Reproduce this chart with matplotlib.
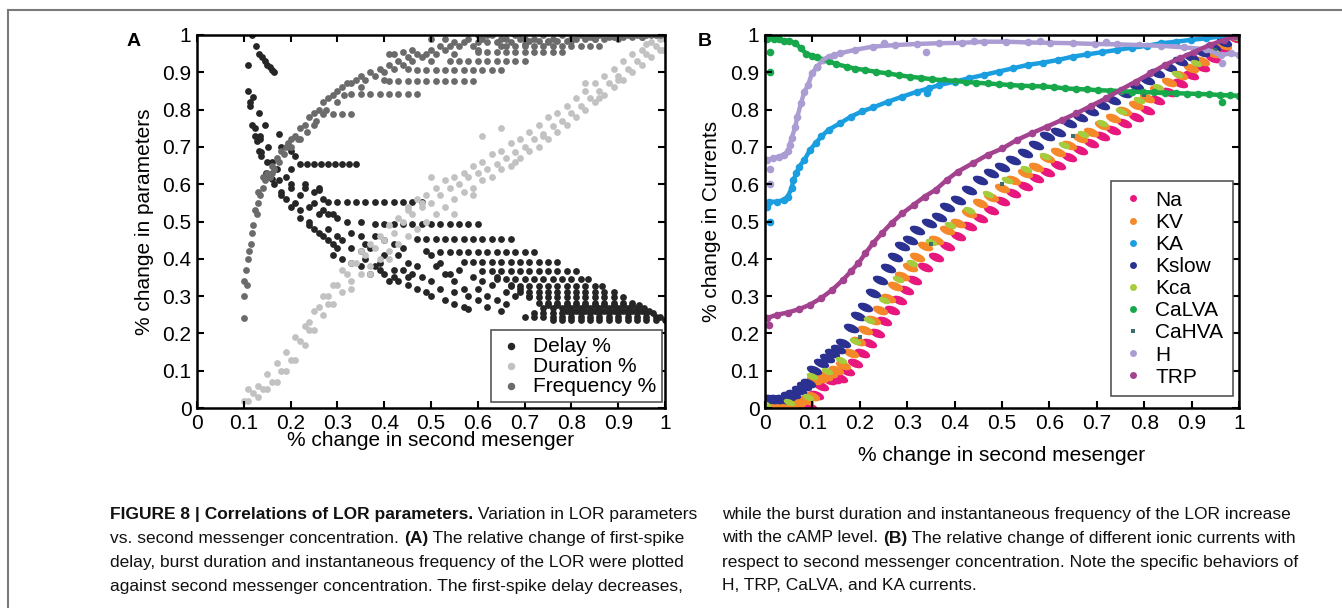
import numpy as np
import matplotlib
matplotlib.use("Agg")
import matplotlib.pyplot as plt
from matplotlib.lines import Line2D
from matplotlib.path import Path
from matplotlib.transforms import Affine2D

plt.rcParams['font.family'] = ['Liberation Sans', 'DejaVu Sans']

# ---------------- panel A data ----------------
# first-spike delay: scattered descending part
delay_x = [0.118, 0.125, 0.132, 0.138, 0.145, 0.15, 0.155, 0.16, 0.165,
           0.109, 0.109, 0.113, 0.119, 0.113, 0.117, 0.123, 0.132, 0.146, 0.124, 0.134,
           0.128, 0.134, 0.132, 0.137, 0.136, 0.152, 0.175, 0.15, 0.147, 0.155, 0.16,
           0.165, 0.175, 0.18, 0.18, 0.19, 0.19, 0.2, 0.2, 0.21, 0.2, 0.22, 0.22, 0.24,
           0.23, 0.25, 0.26, 0.25, 0.27, 0.24, 0.26, 0.27, 0.28, 0.29, 0.3, 0.25, 0.28,
           0.29, 0.3, 0.27, 0.3, 0.31, 0.29, 0.31, 0.33, 0.35, 0.37, 0.33, 0.35, 0.33,
           0.35, 0.36, 0.37, 0.38, 0.39, 0.4, 0.4, 0.42, 0.38, 0.4, 0.42, 0.44, 0.41,
           0.43, 0.45, 0.47, 0.43, 0.45, 0.47, 0.44, 0.46, 0.48, 0.5, 0.49, 0.5, 0.52,
           0.55, 0.53, 0.55, 0.57, 0.58, 0.6, 0.58, 0.57, 0.55, 0.53, 0.52, 0.5, 0.49,
           0.6, 0.62, 0.62, 0.65, 0.64, 0.66, 0.18, 0.2, 0.21, 0.2, 0.23, 0.26, 0.28,
           0.32, 0.35, 0.16, 0.17, 0.22, 0.24, 0.26, 0.36, 0.39, 0.42, 0.45,
           0.61, 0.63, 0.66, 0.68, 0.64, 0.67, 0.69, 0.71, 0.56, 0.59, 0.51, 0.54]
delay_y = [1.0, 0.97, 0.95, 0.94, 0.93, 0.92, 0.915, 0.905, 0.90,
           0.92, 0.85, 0.82, 0.835, 0.81, 0.76, 0.75, 0.79, 0.76, 0.73, 0.73,
           0.715, 0.72, 0.69, 0.685, 0.675, 0.70, 0.735, 0.66, 0.63, 0.62, 0.615,
           0.60, 0.61, 0.58, 0.57, 0.56, 0.62, 0.64, 0.59, 0.55, 0.54, 0.53, 0.51, 0.50,
           0.60, 0.58, 0.59, 0.55, 0.56, 0.49, 0.47, 0.46, 0.45, 0.44, 0.43, 0.48, 0.48,
           0.52, 0.51, 0.53, 0.46, 0.45, 0.41, 0.40, 0.39, 0.38, 0.36, 0.43, 0.42, 0.47,
           0.46, 0.44, 0.43, 0.38, 0.37, 0.36, 0.41, 0.37, 0.46, 0.45, 0.44, 0.43, 0.34,
           0.34, 0.33, 0.32, 0.41, 0.39, 0.38, 0.37, 0.36, 0.35, 0.34, 0.31, 0.30, 0.32,
           0.31, 0.29, 0.28, 0.27, 0.265, 0.29, 0.30, 0.32, 0.34, 0.36, 0.39, 0.41, 0.42,
           0.32, 0.30, 0.27, 0.26, 0.29, 0.28, 0.70, 0.69, 0.675, 0.60, 0.59, 0.585, 0.52,
           0.50, 0.50, 0.66, 0.64, 0.57, 0.54, 0.52, 0.40, 0.39, 0.35, 0.35,
           0.34, 0.33, 0.31, 0.30, 0.35, 0.33, 0.32, 0.30, 0.37, 0.35, 0.38, 0.36]

# first-spike delay: flat rows (one y level per row)
delay_row_y = [0.655, 0.552, 0.492, 0.452, 0.418, 0.392, 0.367, 0.347, 0.328,
               0.312, 0.297, 0.282, 0.268, 0.254, 0.243, 0.236, 0.275, 0.26]
delay_row_x = [
    [0.22, 0.235, 0.25, 0.265, 0.28, 0.295, 0.31, 0.325, 0.34],
    [0.28, 0.30, 0.32, 0.34, 0.36, 0.38, 0.40, 0.42, 0.44, 0.46, 0.48],
    [0.38, 0.40, 0.42, 0.44, 0.46, 0.48, 0.50, 0.52, 0.54, 0.56, 0.58, 0.60],
    [0.47, 0.49, 0.51, 0.53, 0.55, 0.57, 0.59, 0.61, 0.63, 0.65, 0.67],
    [0.52, 0.54, 0.56, 0.58, 0.60, 0.62, 0.64, 0.66, 0.68, 0.70, 0.72],
    [0.57, 0.59, 0.61, 0.63, 0.65, 0.67, 0.69, 0.71, 0.73, 0.75, 0.77],
    [0.61, 0.63, 0.65, 0.67, 0.69, 0.71, 0.73, 0.75, 0.77, 0.79, 0.81],
    [0.64, 0.66, 0.68, 0.70, 0.72, 0.74, 0.76, 0.78, 0.80, 0.82, 0.835],
    [0.67, 0.69, 0.71, 0.73, 0.75, 0.77, 0.79, 0.81, 0.83, 0.85, 0.865],
    [0.69, 0.71, 0.73, 0.75, 0.77, 0.79, 0.81, 0.83, 0.85, 0.87, 0.89],
    [0.71, 0.73, 0.75, 0.77, 0.79, 0.81, 0.83, 0.85, 0.87, 0.89, 0.91],
    [0.73, 0.75, 0.77, 0.79, 0.81, 0.83, 0.85, 0.87, 0.89, 0.91, 0.93],
    [0.74, 0.76, 0.78, 0.80, 0.82, 0.84, 0.86, 0.88, 0.90, 0.92, 0.94, 0.955],
    [0.72, 0.74, 0.76, 0.78, 0.80, 0.82, 0.84, 0.86, 0.88, 0.90, 0.92, 0.94, 0.96, 0.975],
    [0.70, 0.72, 0.74, 0.76, 0.78, 0.80, 0.82, 0.84, 0.86, 0.88, 0.90, 0.92, 0.94, 0.96, 0.98, 0.99],
    [0.76, 0.78, 0.80, 0.82, 0.84, 0.86, 0.88, 0.90, 0.92, 0.94, 0.96, 0.98, 1.0],
    [0.75, 0.77, 0.79, 0.81, 0.83, 0.85, 0.87, 0.89, 0.91, 0.93, 0.945],
    [0.79, 0.81, 0.83, 0.85, 0.87, 0.89, 0.91, 0.93, 0.95, 0.965],
]

# burst duration: three tracks across the band
dur_mid_x = [0.10, 0.12, 0.14, 0.16, 0.18, 0.20, 0.22, 0.24, 0.26, 0.28, 0.30, 0.32,
             0.34, 0.36, 0.38, 0.40, 0.42, 0.44, 0.46, 0.48, 0.50, 0.52, 0.54, 0.56,
             0.58, 0.60, 0.62, 0.64, 0.66, 0.68, 0.70, 0.72, 0.74, 0.76, 0.78, 0.80,
             0.82, 0.84, 0.86, 0.88, 0.90, 0.92, 0.94, 0.96, 0.98, 1.00]
dur_mid_y = [0.02, 0.04, 0.05, 0.07, 0.10, 0.13, 0.18, 0.23, 0.27, 0.30, 0.33, 0.36,
             0.39, 0.41, 0.43, 0.45, 0.47, 0.50, 0.52, 0.54, 0.55, 0.57, 0.59, 0.60,
             0.62, 0.63, 0.64, 0.655, 0.67, 0.685, 0.70, 0.72, 0.735, 0.755, 0.77, 0.79,
             0.81, 0.83, 0.85, 0.87, 0.89, 0.91, 0.93, 0.95, 0.97, 0.99]
dur_side_x = [0.11, 0.13, 0.15, 0.17, 0.19, 0.21, 0.23, 0.25, 0.27, 0.29, 0.31, 0.33,
              0.35, 0.37, 0.39, 0.41, 0.43, 0.45, 0.47, 0.49, 0.51, 0.53, 0.55, 0.57,
              0.59, 0.61, 0.63, 0.65, 0.67, 0.69, 0.71, 0.73, 0.75, 0.77, 0.79, 0.81,
              0.83, 0.85, 0.87, 0.89, 0.91, 0.93, 0.95, 0.97, 0.99]
dur_lo_y = [0.02, 0.03, 0.05, 0.07, 0.10, 0.13, 0.17, 0.21, 0.25, 0.28, 0.31, 0.34,
            0.36, 0.38, 0.40, 0.42, 0.44, 0.46, 0.48, 0.50, 0.52, 0.54, 0.56, 0.58,
            0.59, 0.61, 0.62, 0.64, 0.65, 0.67, 0.69, 0.70, 0.72, 0.74, 0.76, 0.78,
            0.80, 0.82, 0.84, 0.86, 0.88, 0.90, 0.92, 0.94, 0.96]
dur_hi_y = [0.05, 0.06, 0.09, 0.12, 0.15, 0.19, 0.22, 0.26, 0.30, 0.33, 0.37, 0.39,
            0.42, 0.44, 0.46, 0.49, 0.51, 0.54, 0.56, 0.57, 0.59, 0.61, 0.62, 0.63,
            0.65, 0.66, 0.68, 0.69, 0.71, 0.72, 0.74, 0.76, 0.78, 0.79, 0.81, 0.83,
            0.85, 0.87, 0.89, 0.91, 0.93, 0.95, 0.96, 0.98, 0.99]
dur_extra_x = [0.50, 0.61, 0.65, 0.48, 0.995, 0.96, 0.83, 0.45, 0.33, 0.37, 0.41, 0.55,
               0.59, 0.68, 0.74, 0.86, 0.9, 0.28, 0.24]
dur_extra_y = [0.62, 0.73, 0.75, 0.55, 0.96, 0.975, 0.87, 0.53, 0.32, 0.36, 0.40, 0.52,
               0.57, 0.66, 0.73, 0.83, 0.88, 0.28, 0.21]

# instantaneous frequency
freq_x = [0.10, 0.10, 0.101, 0.104, 0.107, 0.11, 0.112, 0.115, 0.118, 0.12, 0.123,
          0.128, 0.13, 0.135, 0.14, 0.145, 0.15, 0.155, 0.16, 0.165, 0.17, 0.175,
          0.18, 0.185, 0.19, 0.195, 0.20, 0.21, 0.215, 0.22, 0.23, 0.235, 0.24, 0.25,
          0.255, 0.26, 0.27, 0.275, 0.28, 0.29, 0.30, 0.31, 0.315, 0.32, 0.33, 0.34,
          0.35, 0.36, 0.37, 0.38, 0.39, 0.40, 0.41, 0.42, 0.43, 0.44, 0.45, 0.46,
          0.47, 0.48, 0.49, 0.50, 0.51, 0.52, 0.53, 0.54, 0.55, 0.56, 0.57, 0.58,
          0.59, 0.60, 0.61, 0.62, 0.63, 0.64, 0.65, 0.66, 0.67, 0.68, 0.69, 0.70,
          0.72, 0.74, 0.76, 0.78, 0.80, 0.82, 0.84, 0.86, 0.88, 0.90, 0.92, 0.94,
          0.96, 0.98, 1.0,
          0.13, 0.14, 0.16, 0.20, 0.22, 0.25, 0.30, 0.35, 0.40, 0.45, 0.50, 0.55,
          0.60, 0.65, 0.70, 0.75, 0.80, 0.85, 0.90, 0.95,
          0.41, 0.42, 0.44, 0.46, 0.50, 0.53, 0.60, 0.62, 0.71, 0.73, 0.75, 0.77,
          0.79, 0.81, 0.83, 0.85, 0.87, 0.89, 0.91, 0.93, 0.95, 0.97, 0.99]
freq_y = [0.24, 0.30, 0.34, 0.37, 0.33, 0.40, 0.42, 0.44, 0.47, 0.49, 0.53,
          0.52, 0.55, 0.57, 0.59, 0.61, 0.63, 0.62, 0.65, 0.64, 0.67, 0.66,
          0.69, 0.68, 0.70, 0.71, 0.72, 0.73, 0.72, 0.75, 0.76, 0.74, 0.78, 0.79,
          0.77, 0.80, 0.82, 0.80, 0.83, 0.84, 0.85, 0.86, 0.84, 0.87, 0.87, 0.88,
          0.89, 0.88, 0.90, 0.89, 0.91, 0.90, 0.92, 0.91, 0.93, 0.92, 0.94, 0.93,
          0.95, 0.94, 0.95, 0.96, 0.95, 0.97, 0.96, 0.97, 0.98, 0.97, 0.98, 0.99,
          0.97, 0.98, 0.99, 0.98, 1.0, 0.98, 0.99, 0.99, 0.98, 1.0, 0.99, 0.99,
          0.99, 1.0, 0.99, 1.0, 0.99, 1.0, 0.995, 1.0, 0.995, 1.0, 1.0, 1.0,
          1.0, 1.0, 1.0,
          0.58, 0.62, 0.63, 0.70, 0.72, 0.76, 0.82, 0.86, 0.88, 0.91, 0.93, 0.95,
          0.96, 0.97, 0.975, 0.98, 0.985, 0.99, 0.99, 0.995,
          0.95, 0.95, 0.955, 0.96, 0.99, 0.99, 1.0, 1.0, 0.985, 0.985, 0.985, 0.985,
          0.985, 0.99, 0.99, 0.99, 0.99, 0.995, 0.995, 0.995, 0.995, 1.0, 1.0]
freq_row_y = [0.787, 0.842, 0.878, 0.905, 0.93, 0.955, 0.97]
freq_row_x = [
    [0.27, 0.29, 0.31, 0.33],
    [0.33, 0.35, 0.37, 0.39, 0.41, 0.43, 0.45, 0.47],
    [0.41, 0.43, 0.45, 0.47, 0.49, 0.51, 0.53, 0.55, 0.57, 0.59],
    [0.47, 0.49, 0.51, 0.53, 0.55, 0.57, 0.59, 0.61, 0.63, 0.65],
    [0.54, 0.56, 0.58, 0.60, 0.62, 0.64, 0.66, 0.68, 0.70],
    [0.60, 0.62, 0.64, 0.66, 0.68, 0.70, 0.72, 0.74, 0.76, 0.78],
    [0.66, 0.68, 0.70, 0.72, 0.74, 0.76, 0.78, 0.80, 0.82, 0.84, 0.86],
]

# ---------------- panel B data ----------------
calva_x = [0.0, 0.005, 0.01, 0.02, 0.03, 0.04, 0.05, 0.064, 0.075, 0.087, 0.10, 0.11,
           0.134, 0.15, 0.173, 0.19, 0.212, 0.235, 0.26, 0.283, 0.306, 0.33, 0.353,
           0.377, 0.40, 0.423, 0.446, 0.47, 0.493, 0.517, 0.54, 0.563, 0.587, 0.61,
           0.633, 0.657, 0.68, 0.703, 0.727, 0.75, 0.774, 0.797, 0.82, 0.843, 0.867,
           0.89, 0.914, 0.937, 0.96, 0.98, 1.0]
calva_y = [0.995, 0.99, 0.995, 0.99, 0.99, 0.985, 0.985, 0.978, 0.965, 0.95, 0.945, 0.94,
           0.93, 0.922, 0.915, 0.91, 0.906, 0.901, 0.897, 0.892, 0.888, 0.885, 0.881,
           0.879, 0.877, 0.874, 0.872, 0.87, 0.868, 0.866, 0.864, 0.863, 0.862, 0.86,
           0.857, 0.855, 0.854, 0.852, 0.851, 0.85, 0.848, 0.847, 0.846, 0.845, 0.844,
           0.843, 0.842, 0.841, 0.839, 0.838, 0.837]
calva_out_x = [0.01, 0.01, 0.11, 0.965]
calva_out_y = [0.955, 0.90, 0.915, 0.82]

h_x = [0.005, 0.017, 0.03, 0.04, 0.048, 0.052, 0.056, 0.064, 0.068, 0.076,
       0.083, 0.091, 0.099, 0.11, 0.122, 0.134, 0.158, 0.189, 0.228, 0.275, 0.321,
       0.368, 0.415, 0.462, 0.509, 0.555, 0.602, 0.649, 0.696, 0.743, 0.789, 0.836,
       0.883, 0.93, 0.961, 0.984, 1.0]
h_y = [0.665, 0.67, 0.674, 0.679, 0.688, 0.705, 0.723, 0.754, 0.78, 0.817,
       0.848, 0.866, 0.897, 0.915, 0.933, 0.942, 0.951, 0.96, 0.969, 0.973, 0.976,
       0.978, 0.979, 0.982, 0.982, 0.98, 0.979, 0.978, 0.976, 0.975, 0.973, 0.971,
       0.967, 0.962, 0.946, 0.951, 0.946]
h_out_x = [0.01, 0.01, 0.965, 0.34, 0.145, 0.25, 0.44, 0.58, 0.72, 0.86]
h_out_y = [0.60, 0.64, 0.924, 0.955, 0.947, 0.978, 0.985, 0.985, 0.98, 0.975]

ka_x = [0.004, 0.009, 0.025, 0.04, 0.048, 0.056, 0.06, 0.066, 0.072, 0.083, 0.095,
        0.107, 0.119, 0.134, 0.158, 0.181, 0.204, 0.228, 0.259, 0.29, 0.321, 0.345,
        0.368, 0.40, 0.43, 0.462, 0.493, 0.524, 0.555, 0.587, 0.618, 0.649,
        0.68, 0.711, 0.743, 0.774, 0.805, 0.836, 0.867, 0.899, 0.93, 0.961, 0.992]
ka_y = [0.54, 0.553, 0.553, 0.558, 0.567, 0.589, 0.611, 0.629, 0.647, 0.665, 0.692,
        0.71, 0.728, 0.746, 0.763, 0.781, 0.795, 0.806, 0.821, 0.835, 0.848, 0.857,
        0.866, 0.875, 0.884, 0.893, 0.902, 0.911, 0.92, 0.926, 0.933, 0.942,
        0.948, 0.954, 0.96, 0.966, 0.971, 0.978, 0.982, 0.987, 0.991, 0.996, 1.0]
ka_out_x = [0.01, 0.341]
ka_out_y = [0.50, 0.844]

trp_x = [0.004, 0.025, 0.048, 0.072, 0.095, 0.119, 0.142, 0.165, 0.181, 0.197,
         0.212, 0.228, 0.247, 0.267, 0.29, 0.314, 0.337, 0.36, 0.384, 0.407, 0.438,
         0.47, 0.501, 0.532, 0.563, 0.594, 0.626, 0.657, 0.688, 0.719, 0.75, 0.782,
         0.813, 0.844, 0.875, 0.906, 0.938, 0.969, 0.992]
trp_y = [0.241, 0.25, 0.256, 0.265, 0.277, 0.295, 0.317, 0.344, 0.366, 0.388,
         0.415, 0.442, 0.469, 0.496, 0.522, 0.545, 0.567, 0.585, 0.612, 0.634, 0.656,
         0.679, 0.696, 0.719, 0.737, 0.754, 0.772, 0.79, 0.81, 0.83, 0.853, 0.875,
         0.897, 0.92, 0.9375, 0.955, 0.973, 0.987, 0.996]
trp_out_x = [0.009]
trp_out_y = [0.223]

kslow_x = [0.0, 0.012, 0.024, 0.036, 0.048, 0.06, 0.072, 0.082, 0.091, 0.103, 0.119,
           0.13, 0.142, 0.155, 0.165, 0.181, 0.197,
           0.212, 0.228, 0.243, 0.259, 0.275, 0.29, 0.306, 0.321, 0.345, 0.368, 0.384,
           0.407, 0.43, 0.454, 0.477, 0.501, 0.524, 0.548, 0.571, 0.594, 0.618, 0.641,
           0.665, 0.688, 0.711, 0.735, 0.758, 0.782, 0.805, 0.828, 0.852, 0.875, 0.899,
           0.922, 0.945, 0.969, 0.992]
kslow_y = [0.024, 0.024, 0.024, 0.025, 0.031, 0.038, 0.049, 0.058, 0.067, 0.103, 0.12,
           0.135, 0.147, 0.158, 0.174, 0.214, 0.246,
           0.272, 0.308, 0.344, 0.375, 0.406, 0.433, 0.451, 0.478, 0.496, 0.513, 0.54,
           0.558, 0.585, 0.612, 0.629, 0.647, 0.665, 0.683, 0.705, 0.728, 0.741, 0.763,
           0.781, 0.797, 0.8125, 0.826, 0.844, 0.862, 0.879, 0.897, 0.915, 0.929, 0.942,
           0.955, 0.969, 0.982, 0.996]

kv_x = [0.0, 0.015, 0.03, 0.045, 0.056, 0.07, 0.087, 0.099, 0.103, 0.115, 0.126, 0.138,
        0.15, 0.165, 0.181, 0.197, 0.212,
        0.228, 0.243, 0.259, 0.275, 0.29, 0.306, 0.321, 0.337, 0.36, 0.384, 0.407,
        0.43, 0.454, 0.477, 0.501, 0.524, 0.548, 0.571, 0.594, 0.618, 0.641, 0.665,
        0.688, 0.711, 0.735, 0.758, 0.782, 0.805, 0.828, 0.852, 0.875, 0.899, 0.922,
        0.945, 0.969, 0.992, 1.0]
kv_y = [0.009, 0.009, 0.009, 0.011, 0.013, 0.017, 0.022, 0.031, 0.076, 0.08, 0.085, 0.094,
        0.103, 0.116, 0.147, 0.179, 0.21,
        0.237, 0.263, 0.295, 0.326, 0.353, 0.379, 0.406, 0.433, 0.451, 0.478, 0.496,
        0.522, 0.549, 0.567, 0.589, 0.612, 0.629, 0.647, 0.67, 0.6875, 0.705, 0.723,
        0.741, 0.759, 0.777, 0.795, 0.8125, 0.83, 0.853, 0.875, 0.893, 0.911, 0.929,
        0.951, 0.973, 0.996, 1.0]

kca_x = [0.0, 0.05, 0.09, 0.10, 0.13, 0.16, 0.19, 0.22, 0.25, 0.28, 0.31, 0.35, 0.39,
         0.43, 0.47, 0.51, 0.55, 0.59, 0.63, 0.67, 0.71, 0.75, 0.79, 0.83, 0.87, 0.91,
         0.95, 0.99]
kca_y = [0.01, 0.015, 0.03, 0.085, 0.1, 0.13, 0.18, 0.235, 0.29, 0.345, 0.39, 0.445,
         0.49, 0.53, 0.575, 0.61, 0.64, 0.675, 0.705, 0.735, 0.765, 0.795, 0.825, 0.86,
         0.895, 0.925, 0.955, 0.995]

na_x = [0.0, 0.015, 0.03, 0.045, 0.056, 0.07, 0.08, 0.095, 0.107, 0.119, 0.134, 0.146,
        0.158, 0.173, 0.189, 0.205,
        0.22, 0.236, 0.251, 0.267, 0.282, 0.298, 0.314, 0.337, 0.36, 0.384, 0.407, 0.43,
        0.454, 0.477, 0.501, 0.524, 0.548, 0.571, 0.594, 0.618, 0.641, 0.665, 0.688,
        0.711, 0.735, 0.758, 0.782, 0.805, 0.828, 0.852, 0.875, 0.899, 0.922, 0.945,
        0.969, 0.992]
na_y = [0.0, 0.0, 0.0, 0.0, 0.0, 0.0, 0.0, 0.003, 0.036, 0.058, 0.076, 0.078,
        0.08, 0.098, 0.12, 0.147,
        0.174, 0.2, 0.232, 0.263, 0.29, 0.317, 0.344, 0.379, 0.406, 0.433, 0.46, 0.487,
        0.509, 0.531, 0.554, 0.576, 0.594, 0.616, 0.634, 0.652, 0.674, 0.692, 0.71,
        0.728, 0.746, 0.763, 0.781, 0.799, 0.826, 0.848, 0.871, 0.893, 0.915, 0.9375,
        0.96, 0.991]

cahva_x = [0.2, 0.35, 0.5, 0.65, 0.8, 0.95]
cahva_y = [0.19, 0.44, 0.6, 0.73, 0.84, 0.96]

currents = ['Na', 'KV', 'KA', 'Kslow', 'Kca', 'CaLVA', 'CaHVA', 'H', 'TRP']
current_colors = ['#e8177d', '#f5892a', '#1a9ee0', '#2b3190', '#a4cc3c',
                  '#18a84c', '#3d6d6d', '#ab9dd3', '#a3428e']

# ---------------- caption ----------------
caption_left = [
    [("FIGURE 8 | Correlations of LOR parameters.", True), (" Variation in LOR parameters", False)],
    [("vs. second messenger concentration. ", False), ("(A)", True), (" The relative change of first-spike", False)],
    [("delay, burst duration and instantaneous frequency of the LOR were plotted", False)],
    [("against second messenger concentration. The first-spike delay decreases,", False)],
]
caption_right = [
    [("while the burst duration and instantaneous frequency of the LOR increase", False)],
    [("with the cAMP level. ", False), ("(B)", True), (" The relative change of different ionic currents with", False)],
    [("respect to second messenger concentration. Note the specific behaviors of", False)],
    [("H, TRP, CaLVA, and KA currents.", False)],
]

W, H = 1342, 608
fig = plt.figure(figsize=(W / 100, H / 100), dpi=100)
fig.patch.set_facecolor('white')

axA = fig.add_axes([197 / W, 1 - 408 / H, 468 / W, 373 / H])
axB = fig.add_axes([765 / W, 1 - 408 / H, 474 / W, 373 / H])

# panel A
sA = 24
c_delay, c_dur, c_freq = '#262626', '#c2c2c2', '#6b6b6b'
axA.scatter(delay_x, delay_y, s=sA, color=c_delay, lw=0, label='Delay %')
for yv, xs in zip(delay_row_y, delay_row_x):
    axA.scatter(xs, [yv] * len(xs), s=sA, color=c_delay, lw=0)
axA.scatter(dur_mid_x, dur_mid_y, s=sA, color=c_dur, lw=0, label='Duration %')
axA.scatter(dur_side_x, dur_lo_y, s=sA, color=c_dur, lw=0)
axA.scatter(dur_side_x, dur_hi_y, s=sA, color=c_dur, lw=0)
axA.scatter(dur_extra_x, dur_extra_y, s=sA, color=c_dur, lw=0)
axA.scatter(freq_x, freq_y, s=sA, color=c_freq, lw=0, label='Frequency %')
for yv, xs in zip(freq_row_y, freq_row_x):
    axA.scatter(xs, [yv] * len(xs), s=sA, color=c_freq, lw=0)

# panel B: dense point clouds drawn as thick dotted traces
dash = Path.unit_circle().transformed(Affine2D().scale(2.0, 1.0).rotate_deg(-22))
sB = 30
sD = 130
col = dict(zip(currents, current_colors))


def band(ax, x, y, color, xo=(), yo=()):
    ax.plot(x, y, '-', color=color, lw=3.2, solid_capstyle='round')
    ax.scatter(x, y, s=sB, color=color, lw=0)
    if len(xo):
        ax.scatter(xo, yo, s=sB, color=color, lw=0)


axB.scatter(na_x, na_y, s=sD, marker=dash, color=col['Na'], lw=0)
axB.scatter(kv_x, kv_y, s=sD, marker=dash, color=col['KV'], lw=0)
band(axB, ka_x, ka_y, col['KA'], ka_out_x, ka_out_y)
axB.scatter(kslow_x, kslow_y, s=sD, marker=dash, color=col['Kslow'], lw=0)
axB.scatter(kca_x, kca_y, s=75, marker=dash, color=col['Kca'], lw=0)
band(axB, calva_x, calva_y, col['CaLVA'], calva_out_x, calva_out_y)
axB.scatter(cahva_x, cahva_y, s=10, marker='s', color=col['CaHVA'], lw=0)
band(axB, h_x, h_y, col['H'], h_out_x, h_out_y)
band(axB, trp_x, trp_y, col['TRP'], trp_out_x, trp_out_y)

ticks = [0, 0.1, 0.2, 0.3, 0.4, 0.5, 0.6, 0.7, 0.8, 0.9, 1]
tick_labels = ['0', '0.1', '0.2', '0.3', '0.4', '0.5', '0.6', '0.7', '0.8', '0.9', '1']
for ax in (axA, axB):
    ax.set_xlim(0, 1)
    ax.set_ylim(0, 1)
    ax.set_xticks(ticks)
    ax.set_xticklabels(tick_labels)
    ax.set_yticks(ticks)
    ax.set_yticklabels(tick_labels)
    ax.tick_params(direction='in', length=5, width=1.5, top=True, right=True,
                   labelsize=15, pad=4)
    for sp in ax.spines.values():
        sp.set_linewidth(1.8)
        sp.set_zorder(5)

axA.set_xlabel('% change in second mesenger', fontsize=15)
axA.xaxis.set_label_coords(0.5, -0.062)
axA.set_ylabel('% change in parameters', fontsize=15)
axA.yaxis.set_label_coords(-0.092, 0.5)
axB.set_xlabel('% change in second mesenger', fontsize=15)
axB.xaxis.set_label_coords(0.5, -0.102)
axB.set_ylabel('% change in Currents', fontsize=15)
axB.yaxis.set_label_coords(-0.093, 0.5)

legA = axA.legend(loc='lower right', bbox_to_anchor=(0.994, 0.016), borderaxespad=0,
                  fontsize=15, fancybox=False, framealpha=1, edgecolor='#555555',
                  handletextpad=0.4, labelspacing=0.05, borderpad=0.3,
                  handlelength=1.3, markerscale=1.1)
legA.get_frame().set_linewidth(1.2)

handlesB = [Line2D([], [], ls='none', marker='s' if n == 'CaHVA' else 'o',
                   ms=3.5 if n == 'CaHVA' else 5, mew=0, color=c)
            for n, c in zip(currents, current_colors)]
legB = axB.legend(handlesB, currents, loc='lower right', bbox_to_anchor=(0.987, 0.032),
                  borderaxespad=0, fontsize=15, fancybox=False, framealpha=1,
                  edgecolor='#555555', handletextpad=0.5, labelspacing=0.15,
                  borderpad=0.45, handlelength=1.2)
legB.get_frame().set_linewidth(1.2)
legA.set_zorder(6)
legB.set_zorder(6)

fig.text(127 / W, 1 - 41 / H, 'A', fontsize=14, fontweight='bold', ha='left', va='center')
fig.text(698 / W, 1 - 41 / H, 'B', fontsize=14, fontweight='bold', ha='left', va='center')

# page frame
fig.add_artist(Line2D([8 / W, 1], [1 - 10 / H, 1 - 10 / H], transform=fig.transFigure,
                      color='#7a7a7a', lw=1.5))
fig.add_artist(Line2D([8 / W, 8 / W], [1 - 10 / H, 0], transform=fig.transFigure,
                      color='#7a7a7a', lw=1.5))

# caption, mixing bold and regular pieces on one line
renderer = fig.canvas.get_renderer()


def caption_block(x0, y0, lines):
    for i, parts in enumerate(lines):
        x = x0
        y = y0 + i * 24
        for txt, bold in parts:
            t = fig.text(x / W, 1 - y / H, txt, fontsize=12.5, ha='left', va='center',
                         fontweight='bold' if bold else 'normal', color='#111111')
            x += t.get_window_extent(renderer).width


caption_block(110, 514, caption_left)
caption_block(722, 514, caption_right)

fig.savefig('out.png', dpi=100)
